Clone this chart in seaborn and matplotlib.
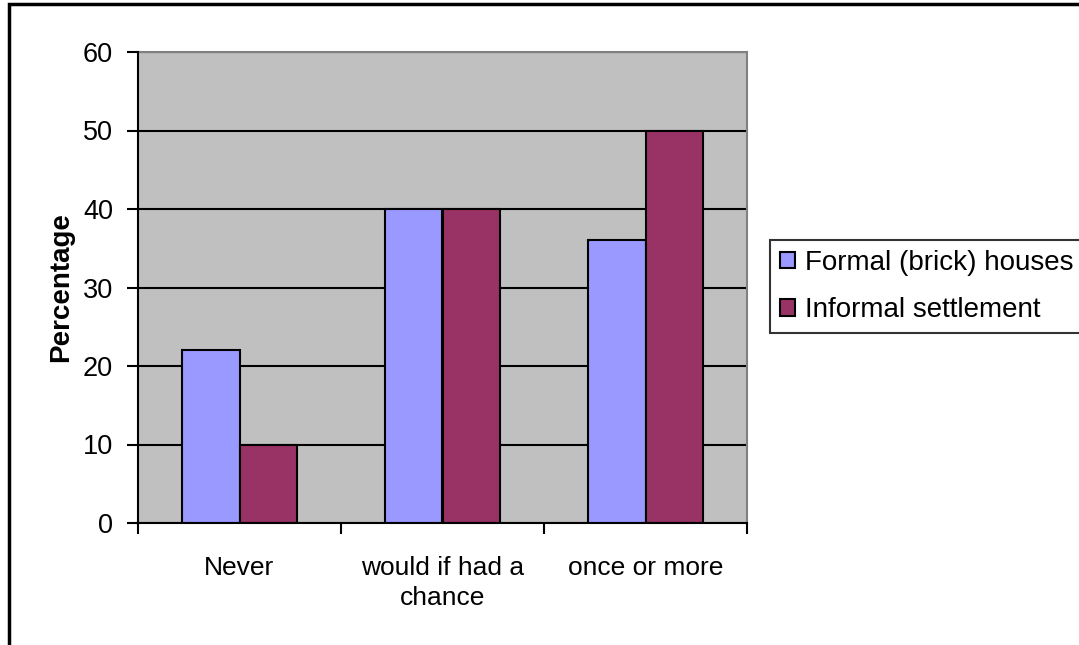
import matplotlib
matplotlib.use("Agg")
import matplotlib.pyplot as plt
import seaborn as sns
import pandas as pd
from matplotlib.patches import Rectangle, Patch

categories = ["Never", "would if had a\nchance", "once or more"]
series_names = ["Formal (brick) houses", "Informal settlement"]
formal = [22, 40, 36]
informal = [10, 40, 50]
yticks = [0, 10, 20, 30, 40, 50, 60]

df = pd.DataFrame({
    "category": categories * 2,
    "group": [series_names[0]] * 3 + [series_names[1]] * 3,
    "value": formal + informal,
})

sns.set_theme(style="white")
plt.rcParams["font.family"] = ["Liberation Sans", "DejaVu Sans"]
plt.rcParams["text.color"] = "black"
plt.rcParams["axes.labelcolor"] = "black"
plt.rcParams["xtick.color"] = "black"
plt.rcParams["ytick.color"] = "black"

W, H = 1079, 645
fig = plt.figure(figsize=(W / 100, H / 100), dpi=100)
ax = fig.add_axes([138 / W, 1 - 523 / H, 609 / W, 471 / H])
ax.set_facecolor("#C0C0C0")

colors = {series_names[0]: "#9999FF", series_names[1]: "#993366"}
sns.barplot(data=df, x="category", y="value", hue="group", order=categories,
            hue_order=series_names, palette=colors, width=0.57, saturation=1,
            edgecolor="black", linewidth=1.5, ax=ax, legend=False, zorder=3)

ax.set_ylim(0, 60)
ax.set_xlim(-0.5, 2.5)
ax.set_yticks(yticks)
ax.yaxis.grid(True, color="black", linewidth=1.5, zorder=1)
ax.set_axisbelow(True)
ax.xaxis.grid(False)

for s in ["top", "right"]:
    ax.spines[s].set_color("#808080")
    ax.spines[s].set_linewidth(1.5)
for s in ["left", "bottom"]:
    ax.spines[s].set_color("black")
    ax.spines[s].set_linewidth(1.5)
    ax.spines[s].set_zorder(4)

ax.tick_params(axis="y", which="major", direction="out", length=8, width=1.5,
               color="black", labelcolor="black", pad=10, labelsize=19.5, left=True)
ax.set_xticks([-0.5, 0.5, 1.5, 2.5], minor=True)
ax.tick_params(axis="x", which="minor", direction="out", length=8, width=1.5,
               color="black", bottom=True)
ax.tick_params(axis="x", which="major", length=0, pad=24, labelsize=19,
               labelcolor="black")
ax.set_xticklabels(categories, linespacing=1.3)
ax.set_xlabel("")
ax.set_ylabel("Percentage", fontsize=20, fontweight="bold", labelpad=6,
              color="black")

handles = [Patch(facecolor=colors[n], edgecolor="black", linewidth=1.5) for n in series_names]
leg = fig.legend(handles, series_names, loc="upper left",
                 bbox_to_anchor=(770 / W, 1 - 240 / H), fontsize=20,
                 handlelength=0.55, handleheight=0.55, handletextpad=0.35,
                 borderpad=0.35, labelspacing=0.78, borderaxespad=0,
                 frameon=True, fancybox=False, shadow=False)
leg.get_frame().set_edgecolor("black")
leg.get_frame().set_linewidth(1.5)
for t in leg.get_texts():
    t.set_color("black")

# outer chart border
fig.patches.append(Rectangle((8.5 / W, -0.1), 1.2, 1.1 - 4.5 / H,
                             transform=fig.transFigure, fill=False,
                             edgecolor="black", linewidth=2.5))

fig.savefig("out.png", dpi=100)
